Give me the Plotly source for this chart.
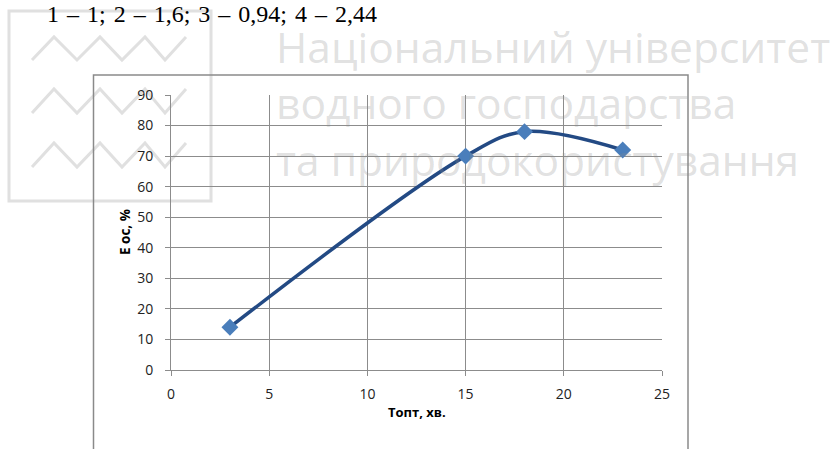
import plotly.graph_objects as go

# Data: optimal time vs. treatment efficiency
t_opt = [3, 15, 18, 23]
e_os = [14, 70, 78, 72]

x_ticks = [0, 5, 10, 15, 20, 25]
y_ticks = [0, 10, 20, 30, 40, 50, 60, 70, 80, 90]

W_PX, H_PX = 833, 449
L, R, T, B = 171, 662, 95, 370  # plot area in pixels


def px(x):
    return (x - L) / (R - L)


def py(y):
    return 1 - (y - T) / (B - T)


fig = go.Figure()
fig.add_trace(go.Scatter(
    x=t_opt, y=e_os,
    mode="lines+markers",
    line=dict(color="#234a84", width=3.5, shape="spline", smoothing=1),
    marker=dict(symbol="diamond", size=13, color="#4a7ebb",
                line=dict(color="#4a7ebb", width=0)),
    cliponaxis=False,
    showlegend=False,
))

shapes = []
grey_wm = "#e0e0e0"
# logo frame
shapes.append(dict(type="rect", xref="paper", yref="paper", layer="below",
                   x0=px(9), x1=px(211), y0=py(11), y1=py(201),
                   line=dict(color=grey_wm, width=3)))
# logo zigzags
zx = [32, 54, 77, 100, 122, 145, 165, 186]
for top, bot in [(37, 60), (89, 113), (143, 167)]:
    pts = []
    for i, xv in enumerate(zx):
        yv = bot if i % 2 == 0 else top
        pts.append(f"{px(xv)},{py(yv)}")
    shapes.append(dict(type="path", xref="paper", yref="paper", layer="below",
                       path="M" + " L".join(pts),
                       line=dict(color=grey_wm, width=3)))
# chart area frame
shapes.append(dict(type="rect", xref="paper", yref="paper", layer="below",
                   x0=px(93.5), x1=px(688), y0=py(75), y1=py(470),
                   line=dict(color="#8a8a8a", width=1.5)))

sp = " \u200a"
header = sp.join(["1", "–", "1;", "2", "–", "1,6;", "3", "–", "0,94;", "4", "–", "2,44"])

annotations = [
    dict(text=header, xref="paper", yref="paper",
         x=px(45), y=py(14), xanchor="left", yanchor="middle", showarrow=False,
         font=dict(family="Liberation Serif", size=24, color="#000000")),
    dict(text="Е ос, %", xref="paper", yref="paper", x=px(125), y=py(232),
         textangle=-90, xanchor="center", yanchor="middle", showarrow=False,
         font=dict(family="Open Sans", size=13.5, color="#000000", weight="bold")),
    dict(text="Топт, хв.", xref="paper", yref="paper", x=0.5, y=py(412),
         xanchor="center", yanchor="middle", showarrow=False,
         font=dict(family="Open Sans", size=13, color="#000000", weight="bold")),
]
wm_font = dict(family="Open Sans", size=42.5, color="rgba(140,140,140,0.27)")
for txt, yc in [("Національний університет", 47),
                ("водного господарства", 103),
                ("та природокористування", 159)]:
    annotations.append(dict(text=txt, xref="paper", yref="paper",
                            x=px(274), y=py(yc), xanchor="left", yanchor="middle",
                            showarrow=False, font=wm_font))

axis_common = dict(
    showgrid=True, gridcolor="#8c8c8c", gridwidth=1,
    showline=True, linecolor="#8c8c8c", linewidth=1,
    ticks="outside", tickcolor="#8c8c8c", ticklen=5,
    tickfont=dict(family="Open Sans", size=14, color="#222222"),
    zeroline=False, mirror=False,
)

fig.update_layout(
    width=W_PX, height=H_PX,
    margin=dict(l=L, r=W_PX - R, t=T, b=H_PX - B, pad=0),
    paper_bgcolor="white", plot_bgcolor="rgba(0,0,0,0)",
    xaxis=dict(range=[0, 25], tickvals=x_ticks, ticklabelstandoff=6, **axis_common),
    yaxis=dict(range=[0, 90], tickvals=y_ticks, ticklabelstandoff=9, **axis_common),
    shapes=shapes,
    annotations=annotations,
    showlegend=False,
)

fig.write_html("out.html")
